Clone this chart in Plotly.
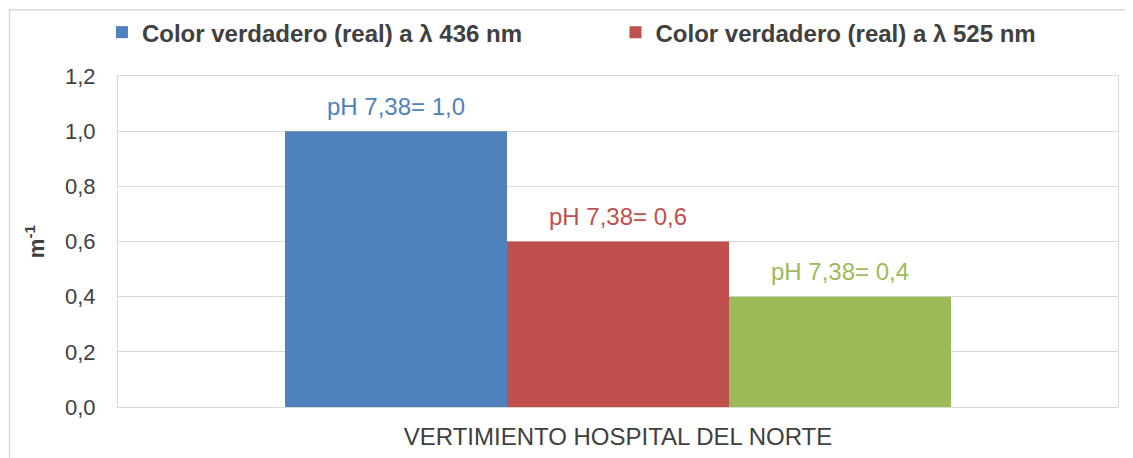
import plotly.graph_objects as go

categories = ["VERTIMIENTO HOSPITAL DEL NORTE"]
series_names = ["Color verdadero (real) a λ 436 nm", "Color verdadero (real) a λ 525 nm", "Serie 3"]
values_436 = [1.0]
values_525 = [0.6]
values_3 = [0.4]
label_436 = ["pH 7,38= 1,0"]
label_525 = ["pH 7,38= 0,6"]
label_3 = ["pH 7,38= 0,4"]
y_ticks = [0.0, 0.2, 0.4, 0.6, 0.8, 1.0, 1.2]

colors = ["#4F81BD", "#C0504D", "#9BBB59"]
FONT = "Liberation Sans, Arial, sans-serif"
TXT = "#404040"

fig = go.Figure()
all_vals = [values_436, values_525, values_3]
all_labels = [label_436, label_525, label_3]
legend_ids = ["legend", "legend2", "legend"]
for i, (name, vals, col) in enumerate(zip(series_names, all_vals, colors)):
    fig.add_trace(go.Bar(
        x=categories, y=vals, name=name, marker=dict(color=col, line=dict(width=0)),
        showlegend=(i < 2), legend=legend_ids[i],
    ))

bargap = 0.334
plot_w = 1000
bar_w = plot_w * (1 - bargap) / 3
for i, (vals, labs, col) in enumerate(zip(all_vals, all_labels, colors)):
    for c, v, t in zip(categories, vals, labs):
        fig.add_annotation(x=c, y=v, xref="x", yref="y", text=t, showarrow=False,
                           xshift=(i - 1) * bar_w, yshift=25, yanchor="middle",
                           font=dict(family=FONT, size=24, color=col))

legend_style = dict(orientation="h", xref="container", xanchor="left",
                    y=0.9955, yref="container", yanchor="top", bgcolor="rgba(0,0,0,0)",
                    font=dict(family=FONT, size=24, color=TXT, weight="bold"),
                    itemclick=False, itemdoubleclick=False)

fig.update_layout(
    width=1125, height=450,
    margin=dict(l=110, r=15, t=68, b=51, autoexpand=False),
    paper_bgcolor="white", plot_bgcolor="white",
    barmode="group", bargap=bargap, bargroupgap=0,
    separators=",.",
    font=dict(family=FONT, size=22, color=TXT),
    legend=dict(x=0.0835, **legend_style),
    legend2=dict(x=0.5400, **legend_style),
    xaxis=dict(showline=True, linecolor="#d9d9d9", linewidth=1, mirror=True, automargin=False,
               tickfont=dict(family=FONT, size=24, color=TXT), ticks="", ticklabelstandoff=8),
    yaxis=dict(range=[0, 1.2], tickvals=y_ticks, tickformat=".1f", showgrid=True,
               gridcolor="#d9d9d9", gridwidth=1, showline=True, linecolor="#d9d9d9",
               linewidth=1, mirror=True, zeroline=False, ticks="", automargin=False,
               ticklabelstandoff=17, tickfont=dict(family=FONT, size=22, color=TXT),
               title=dict(text="m<sup>-1</sup>", standoff=14,
                          font=dict(family=FONT, size=22, color=TXT, weight="bold"))),
    shapes=[dict(type="rect", xref="paper", yref="paper", x0=-0.1085, x1=1.05, y0=-0.3, y1=1.2,
                 line=dict(color="#d9d9d9", width=1.5), layer="below")],
)

fig.write_html("out.html")
